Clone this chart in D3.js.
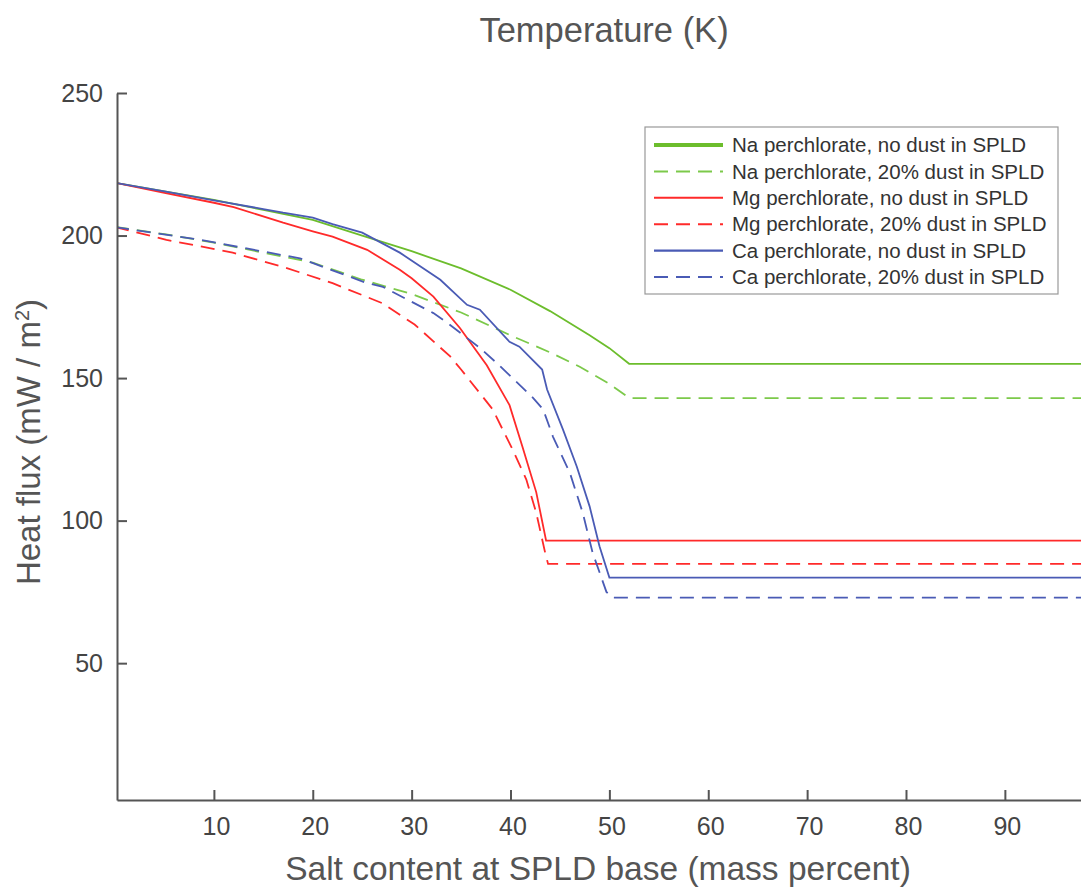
<!DOCTYPE html>
<html>
<head>
<meta charset="utf-8">
<script src="https://cdn.jsdelivr.net/npm/d3@7"></script>
<style>
  body { margin: 0; background: #fff; }
  text { font-family: "Liberation Sans", Arial, sans-serif; }
</style>
</head>
<body>
<div id="chart"></div>
<script>
// salt content (mass percent) / heat flux (mW/m2)
const naDryX = [0, 5, 10, 15, 20, 25, 30, 35, 40, 44, 48, 50, 52, 98];
const naDryY = [218.5, 215.5, 212.5, 209, 205.5, 200, 194.5, 188.5, 181, 173.5, 165, 160.5, 155, 155];
const naDustX = [0, 5, 10, 15, 20, 25, 30, 35, 40, 44, 47, 50, 52, 98];
const naDustY = [203, 200.5, 197.5, 194, 190.5, 184.5, 179.5, 173, 165, 159, 154, 148, 143, 143];
const mgDryX = [0, 5, 10, 12, 17, 20, 22, 25.5, 28.8, 30, 32.2, 34.9, 37.6, 39.9, 41.2, 42.6, 43.6, 98];
const mgDryY = [218.5, 215, 211.5, 210, 204.5, 201.5, 199.6, 195, 188, 185, 178.6, 167.5, 154.5, 140.5, 126, 110, 93, 93];
const mgDustX = [0, 5.2, 11.9, 17, 22, 27, 30.3, 33.9, 35, 38.2, 40.2, 41.6, 42.6, 43.5, 43.8, 98];
const mgDustY = [203, 198.5, 194, 189, 183.3, 176.3, 168.8, 157.6, 153, 139, 125, 114.4, 102.8, 88.8, 84.8, 84.8];
const caDryX = [0, 5, 10, 15, 17, 20, 22, 25, 28.8, 32.9, 35.6, 36.9, 39.9, 40.9, 43.2, 43.7, 45.3, 46.7, 48, 49, 50, 98];
const caDryY = [218.5, 215.5, 212.3, 209.3, 208, 206.3, 204, 201, 194, 184.5, 175.7, 174, 162.7, 161, 153, 146, 132, 119, 105, 91, 80, 80];
const caDustX = [0, 8.6, 18.7, 25.5, 27.1, 32.2, 33.6, 36.9, 38.6, 40.2, 42.3, 43.3, 44.3, 46, 47.3, 48.3, 49.7, 50.3, 98];
const caDustY = [203, 198.5, 192, 183.3, 182, 172.8, 169.4, 160.6, 155.3, 150, 143, 139, 129.4, 116.8, 102.8, 88.8, 75, 73, 73];

const seriesNames = [
  "Na perchlorate, no dust in SPLD",
  "Na perchlorate, 20% dust in SPLD",
  "Mg perchlorate, no dust in SPLD",
  "Mg perchlorate, 20% dust in SPLD",
  "Ca perchlorate, no dust in SPLD",
  "Ca perchlorate, 20% dust in SPLD"
];
const xTicks = [10, 20, 30, 40, 50, 60, 70, 80, 90];
const yTicks = [50, 100, 150, 200, 250];

const series = [
  { name: seriesNames[0], xs: naDryX, ys: naDryY, color: "#6cbd2c", dash: null, lw: 4 },
  { name: seriesNames[1], xs: naDustX, ys: naDustY, color: "#7cc94a", dash: "14,8", lw: 2 },
  { name: seriesNames[2], xs: mgDryX, ys: mgDryY, color: "#ff2a2a", dash: null, lw: 2 },
  { name: seriesNames[3], xs: mgDustX, ys: mgDustY, color: "#ff2a2a", dash: "14,8", lw: 2 },
  { name: seriesNames[4], xs: caDryX, ys: caDryY, color: "#4a5bb5", dash: null, lw: 2.4 },
  { name: seriesNames[5], xs: caDustX, ys: caDustY, color: "#4a5bb5", dash: "14,8", lw: 2 }
];

const width = 1081, height = 888;
const svg = d3.select("#chart").append("svg")
  .attr("width", width).attr("height", height);

const x = d3.scaleLinear().domain([0.2, 97.7]).range([117, 1081]);
const y = d3.scaleLinear().domain([2, 250]).range([800, 93]);

const axisColor = "#555";

svg.append("defs").append("clipPath").attr("id", "clip")
  .append("rect").attr("x", 117).attr("y", 80).attr("width", 970).attr("height", 720);

// lines
const line = d3.line().x(d => x(d[0])).y(d => y(d[1]));
svg.append("g").attr("clip-path", "url(#clip)")
  .selectAll("path")
  .data(series)
  .enter()
  .append("path")
  .attr("d", s => line(s.xs.map((v, i) => [v, s.ys[i]])))
  .attr("fill", "none")
  .attr("stroke", s => s.color)
  .attr("stroke-width", 1.8)
  .attr("stroke-dasharray", s => s.dash);

// axes
const xAxis = svg.append("g").attr("transform", "translate(0,800)")
  .call(d3.axisBottom(x).tickValues(xTicks).tickSizeInner(-10).tickSizeOuter(0).tickPadding(35));
const yAxis = svg.append("g").attr("transform", "translate(117,0)")
  .call(d3.axisLeft(y).tickValues(yTicks).tickSizeInner(-10).tickSizeOuter(0).tickPadding(14));

[xAxis, yAxis].forEach(g => {
  g.select(".domain").attr("stroke", axisColor).attr("stroke-width", 2);
  g.selectAll(".tick line").attr("stroke", axisColor).attr("stroke-width", 2);
  g.selectAll(".tick text").attr("fill", "#444").attr("font-size", 25)
    .attr("font-family", "Liberation Sans, Arial, sans-serif");
});
xAxis.selectAll(".tick text").attr("dy", "0").attr("dx", 2);

// labels
svg.append("text").attr("x", 604).attr("y", 42).attr("text-anchor", "middle")
  .attr("font-size", 34.5).attr("fill", "#555").text("Temperature (K)");
svg.append("text").attr("x", 598).attr("y", 880).attr("text-anchor", "middle")
  .attr("font-size", 33.5).attr("fill", "#555").text("Salt content at SPLD base (mass percent)");
svg.append("text").attr("transform", "translate(40,442) rotate(-90)").attr("text-anchor", "middle")
  .attr("font-size", 33).attr("fill", "#555")
  .html('Heat flux (mW / m<tspan baseline-shift="super" font-size="20">2</tspan>)');

// legend
const lg = svg.append("g");
lg.append("rect").attr("x", 645).attr("y", 127).attr("width", 413).attr("height", 167)
  .attr("fill", "#fff").attr("stroke", "#999").attr("stroke-width", 1.2);
const rows = lg.selectAll("g.row").data(series).enter().append("g")
  .attr("transform", (d, i) => `translate(0,${145 + i * 26.4})`);
rows.append("line").attr("x1", 654).attr("x2", 723).attr("y1", 0).attr("y2", 0)
  .attr("stroke", d => d.color).attr("stroke-width", d => d.lw)
  .attr("stroke-dasharray", d => d.dash);
rows.append("text").attr("x", 732).attr("y", 0).attr("dy", "0.35em")
  .attr("font-size", 20.5).attr("fill", "#333").text(d => d.name);
</script>
</body>
</html>
